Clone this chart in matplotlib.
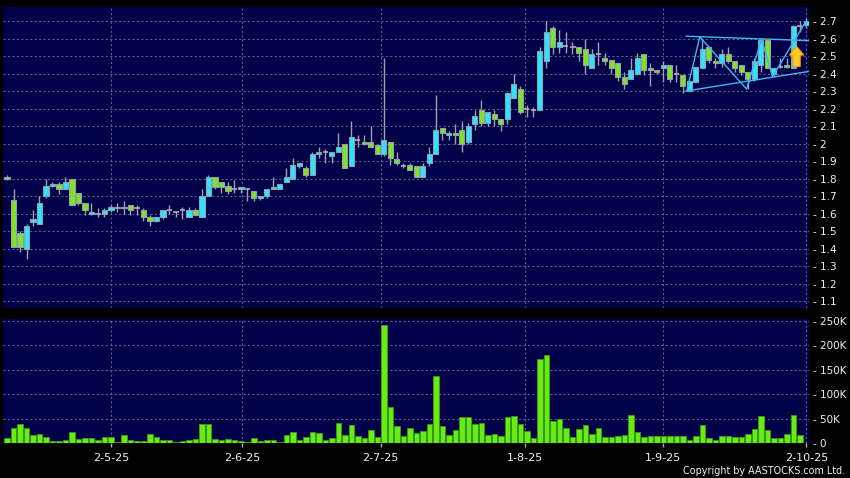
import numpy as np
import matplotlib
matplotlib.use('Agg')
import matplotlib.pyplot as plt
from matplotlib.patches import Rectangle, Polygon

# daily candles
opens = [1.81, 1.68, 1.49, 1.40, 1.55, 1.54, 1.70, 1.76, 1.77, 1.74,
         1.80, 1.72, 1.66, 1.60, 1.60, 1.60, 1.62, 1.63, 1.64, 1.65,
         1.63, 1.62, 1.58, 1.56, 1.58, 1.62, 1.61, 1.62, 1.58, 1.62,
         1.58, 1.70, 1.81, 1.78, 1.76, 1.74, 1.74, 1.74, 1.73, 1.69,
         1.70, 1.75, 1.74, 1.78, 1.80, 1.87, 1.86, 1.82, 1.94, 1.95,
         1.93, 1.95, 2.00, 1.87, 2.02, 2.01, 2.01, 1.99, 1.94, 2.01,
         1.91, 1.87, 1.88, 1.87, 1.81, 1.89, 1.94, 2.09, 2.05, 2.06,
         2.08, 2.01, 2.11, 2.19, 2.12, 2.17, 2.14, 2.14, 2.26, 2.31,
         2.20, 2.19, 2.19, 2.47, 2.66, 2.55, 2.56, 2.56, 2.55, 2.54,
         2.43, 2.51, 2.49, 2.48, 2.46, 2.38, 2.37, 2.40, 2.51, 2.43,
         2.42, 2.43, 2.45, 2.40, 2.39, 2.30, 2.35, 2.43, 2.55, 2.47,
         2.46, 2.51, 2.47, 2.45, 2.41, 2.37, 2.45, 2.59, 2.40, 2.44,
         2.45, 2.43, 2.67, 2.68]
highs = [1.82, 1.74, 1.50, 1.54, 1.62, 1.70, 1.80, 1.78, 1.78, 1.81,
         1.80, 1.72, 1.66, 1.66, 1.63, 1.63, 1.65, 1.66, 1.67, 1.65,
         1.65, 1.63, 1.59, 1.58, 1.62, 1.65, 1.61, 1.64, 1.64, 1.63,
         1.74, 1.82, 1.81, 1.78, 1.78, 1.79, 1.75, 1.74, 1.73, 1.70,
         1.74, 1.81, 1.77, 1.86, 1.92, 1.89, 1.87, 1.95, 1.98, 1.97,
         1.95, 2.06, 2.00, 2.13, 2.05, 2.05, 2.10, 1.99, 2.49, 2.01,
         1.95, 1.89, 1.89, 1.87, 1.89, 1.98, 2.28, 2.09, 2.07, 2.11,
         2.13, 2.12, 2.19, 2.25, 2.18, 2.19, 2.14, 2.29, 2.40, 2.33,
         2.22, 2.21, 2.55, 2.70, 2.67, 2.65, 2.64, 2.58, 2.55, 2.60,
         2.54, 2.58, 2.52, 2.48, 2.46, 2.41, 2.49, 2.52, 2.51, 2.46,
         2.42, 2.47, 2.45, 2.45, 2.39, 2.36, 2.44, 2.60, 2.56, 2.49,
         2.54, 2.55, 2.47, 2.45, 2.41, 2.49, 2.60, 2.59, 2.43, 2.49,
         2.49, 2.68, 2.70, 2.72]
lows = [1.79, 1.41, 1.38, 1.34, 1.53, 1.54, 1.69, 1.75, 1.71, 1.74,
        1.65, 1.65, 1.59, 1.59, 1.58, 1.58, 1.61, 1.61, 1.60, 1.59,
        1.59, 1.56, 1.53, 1.55, 1.57, 1.60, 1.58, 1.57, 1.58, 1.59,
        1.58, 1.70, 1.74, 1.72, 1.71, 1.72, 1.72, 1.67, 1.67, 1.68,
        1.69, 1.74, 1.74, 1.78, 1.80, 1.86, 1.81, 1.82, 1.92, 1.89,
        1.89, 1.95, 1.86, 1.87, 1.98, 1.99, 1.98, 1.94, 1.93, 1.88,
        1.88, 1.86, 1.85, 1.81, 1.81, 1.87, 1.94, 2.02, 2.02, 2.00,
        1.95, 2.00, 2.08, 2.10, 2.10, 2.10, 2.07, 2.11, 2.26, 2.17,
        2.15, 2.15, 2.19, 2.43, 2.51, 2.52, 2.52, 2.51, 2.47, 2.40,
        2.43, 2.45, 2.45, 2.40, 2.36, 2.31, 2.37, 2.39, 2.39, 2.33,
        2.40, 2.35, 2.35, 2.35, 2.29, 2.30, 2.35, 2.43, 2.46, 2.43,
        2.44, 2.46, 2.41, 2.39, 2.31, 2.36, 2.41, 2.43, 2.38, 2.43,
        2.43, 2.43, 2.64, 2.66]
closes = [1.80, 1.41, 1.41, 1.53, 1.57, 1.66, 1.76, 1.77, 1.74, 1.78,
          1.65, 1.66, 1.62, 1.61, 1.60, 1.62, 1.64, 1.64, 1.63, 1.62,
          1.63, 1.58, 1.56, 1.58, 1.62, 1.62, 1.61, 1.62, 1.62, 1.59,
          1.70, 1.81, 1.75, 1.75, 1.73, 1.74, 1.75, 1.74, 1.69, 1.70,
          1.74, 1.74, 1.77, 1.81, 1.88, 1.89, 1.82, 1.94, 1.95, 1.95,
          1.95, 1.98, 1.86, 2.04, 2.02, 2.00, 1.98, 1.94, 2.02, 1.92,
          1.89, 1.87, 1.85, 1.81, 1.87, 1.94, 2.08, 2.06, 2.06, 2.05,
          2.00, 2.10, 2.16, 2.12, 2.18, 2.14, 2.11, 2.29, 2.34, 2.18,
          2.20, 2.19, 2.53, 2.64, 2.55, 2.58, 2.56, 2.55, 2.52, 2.45,
          2.51, 2.51, 2.47, 2.43, 2.38, 2.34, 2.42, 2.49, 2.42, 2.42,
          2.41, 2.45, 2.37, 2.40, 2.33, 2.36, 2.44, 2.54, 2.48, 2.46,
          2.51, 2.47, 2.43, 2.41, 2.37, 2.47, 2.59, 2.43, 2.43, 2.44,
          2.44, 2.67, 2.67, 2.70]
# volume in thousands of shares
vols = [10, 31, 39, 31, 17, 20, 13, 5, 5, 7.5,
        24, 9, 10, 10, 6, 12, 12, 2, 16, 7.5,
        5, 5, 18, 13, 7, 6, 3.5, 5, 7, 9,
        40, 40, 8, 7, 8, 7, 5, 2, 11, 5,
        7.5, 7, 3.5, 16, 23, 7, 12, 24, 21, 7.5,
        10, 42, 16, 37, 15, 10, 28, 13, 242, 75,
        35, 14, 32, 22, 25, 39, 138, 36, 16, 28,
        53, 53, 40, 42, 16, 18, 14, 54, 56, 40,
        25, 11, 173, 180, 46, 50, 31, 13, 30, 37,
        18, 31, 13, 13, 15, 16, 57, 23, 13, 15,
        15, 15, 14, 14, 15, 6, 14, 37, 10, 7,
        15, 14, 12, 12, 18, 29, 56, 27, 10, 10,
        18, 58, 16, 1]

date_pos = [16, 36.2, 57.5, 79.7, 101, 123]
date_labels = ['2-5-25', '2-6-25', '2-7-25', '1-8-25', '1-9-25', '2-10-25']
price_ticks = [1.1, 1.2, 1.3, 1.4, 1.5, 1.6, 1.7, 1.8, 1.9, 2.0, 2.1, 2.2, 2.3, 2.4, 2.5, 2.6, 2.7]
vol_ticks = [0, 50, 100, 150, 200, 250]
vol_labels = ['0', '50K', '100K', '150K', '200K', '250K']

# drawn pattern lines (bar index, price)
upper_x = [104.5, 123.4]; upper_y = [2.613, 2.588]
lower_x = [104.5, 123.4]; lower_y = [2.300, 2.412]
zig_x = [104.6, 106.6, 113.8, 116.1, 117.8, 122.9]
zig_y = [2.300, 2.609, 2.311, 2.597, 2.382, 2.696]

bg = '#000048'
grid_c = '#5c5c8c'
up_c = '#2fe3ff'
dn_c = '#7fe326'
txt_c = '#f0f0f0'

n = len(opens)
x = np.arange(n)

fig = plt.figure(figsize=(8.5, 4.78), dpi=100, facecolor='black')
ax = fig.add_axes([3.3/850, 1-308/478, 806/850, 301/478])
ax2 = fig.add_axes([3.3/850, 1-443.3/478, 806/850, 124/478])

for a in (ax, ax2):
    a.set_facecolor(bg)
    for s in a.spines.values():
        s.set_visible(False)
    a.set_xlim(-0.57, 123.45)
    a.set_xticks(date_pos)
    a.grid(True, color=grid_c, linestyle=(0, (2, 2)), linewidth=0.8)
    a.set_axisbelow(True)

# price panel
ax.set_ylim(1.06, 2.78)
ax.set_yticks(price_ticks)
ax.set_yticklabels(['- %g' % t for t in price_ticks])
ax.yaxis.tick_right()
ax.tick_params(axis='y', length=0, pad=3, labelsize=7.5, labelcolor=txt_c)
ax.tick_params(axis='x', length=0, labelbottom=False)

w = 0.78
ax.vlines(x, lows, highs, color='#a0a0a8', linewidth=1, zorder=2)
for i in range(n):
    o, c = opens[i], closes[i]
    if abs(c - o) < 0.001:
        ax.hlines(o, i - w/2, i + w/2, color='#b0b0b8', linewidth=1.2, zorder=3)
        continue
    col = up_c if c > o else dn_c
    ax.add_patch(Rectangle((i - w/2, min(o, c)), w, abs(c - o), facecolor=col,
                           edgecolor='#8f9fae', linewidth=0.8, zorder=3))

# pattern lines + arrow
lc = '#3fb8f0'
ax.plot(upper_x, upper_y, color=lc, linewidth=1, zorder=4)
ax.plot(lower_x, lower_y, color=lc, linewidth=1, zorder=4)
ax.plot(zig_x, zig_y, color=lc, linewidth=1, zorder=4)
ax_x, ax_b, ax_t = 121.5, 2.44, 2.555
arrow = [(ax_x - 0.55, ax_b), (ax_x + 0.55, ax_b), (ax_x + 0.55, 2.505),
         (ax_x + 1.1, 2.505), (ax_x, ax_t), (ax_x - 1.1, 2.505), (ax_x - 0.55, 2.505)]
ax.add_patch(Polygon(arrow, closed=True, facecolor='#ffcc22', edgecolor='#ff9a00',
                     linewidth=0.8, zorder=5))

# volume panel
ax2.set_ylim(0, 253.5)
ax2.set_yticks(vol_ticks)
ax2.set_yticklabels(['- ' + s for s in vol_labels])
ax2.yaxis.tick_right()
ax2.tick_params(axis='y', length=0, pad=3, labelsize=7.5, labelcolor=txt_c)
ax2.bar(x, vols, width=0.88, color='#66ee14', edgecolor='#3c9c10', linewidth=0.6, zorder=3)
ax2.set_xticklabels(date_labels)
ax2.tick_params(axis='x', length=3, width=1, color='#aaaaaa', pad=4, labelsize=8, labelcolor=txt_c)

fig.text(845/850, 1-471.5/478, 'Copyright by AASTOCKS.com Ltd.', color=txt_c, fontsize=6.9,
         ha='right', va='center')

fig.savefig('out.png', dpi=100, facecolor='black')
